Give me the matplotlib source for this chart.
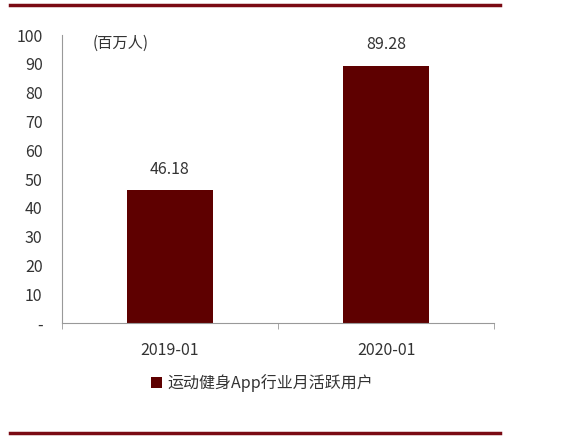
import matplotlib
matplotlib.use("Agg")
import matplotlib.pyplot as plt
from matplotlib.lines import Line2D

plt.rcParams['font.family'] = ['Noto Sans CJK SC', 'DejaVu Sans']

categories = ["2019-01", "2020-01"]
values = [46.18, 89.28]
series_name = "运动健身App行业月活跃用户"
unit_label = "(百万人)"
yticks = [0, 10, 20, 30, 40, 50, 60, 70, 80, 90, 100]
ytick_labels = ["-", "10", "20", "30", "40", "50", "60", "70", "80", "90", "100"]

bar_color = "#5e0000"
text_color = "#333333"

fig = plt.figure(figsize=(5.76, 4.37), dpi=100)
ax = fig.add_axes([62/576, 1-323/437, 432/576, 288/437])

x = list(range(len(categories)))
bars = ax.bar(x, values, width=0.40, color=bar_color, label=series_name, zorder=2)
for xi, v in zip(x, values):
    ax.text(xi, v + 4.3, f"{v:.2f}", ha="center", va="bottom", fontsize=11.5, color=text_color)

ax.set_xlim(-0.5, 1.5)
ax.set_ylim(0, 100)
ax.set_yticks(yticks)
ax.set_yticklabels(ytick_labels, fontsize=11.5, color=text_color)
ax.set_xticks(x)
ax.set_xticklabels(categories, fontsize=11.5, color=text_color)
ax.tick_params(axis="x", length=0, pad=14)
ax.tick_params(axis="y", length=0, pad=14)
ax.set_xticks([-0.5, 0.5, 1.5], minor=True)
ax.tick_params(axis="x", which="minor", length=4, color="#999999", direction="out")

for s in ["top", "right"]:
    ax.spines[s].set_visible(False)
ax.spines["left"].set_color("#999999")
ax.spines["bottom"].set_color("#999999")

ax.text(0.07, 1.0, unit_label, transform=ax.transAxes, ha="left", va="top",
        fontsize=11, color=text_color)

fig.legend(handles=[bars], labels=[series_name], loc="center",
           bbox_to_anchor=(262/576, 1-383/437), frameon=False, fontsize=11.5,
           handlelength=0.7, handleheight=0.7, handletextpad=0.3,
           labelcolor=text_color)

fig.add_artist(Line2D([10/576, 500/576], [1-5/437, 1-5/437], color="#7a0a14", lw=2.5))
fig.add_artist(Line2D([10/576, 500/576], [1-433/437, 1-433/437], color="#7a0a14", lw=2.5))

fig.savefig("out.png", dpi=100)
